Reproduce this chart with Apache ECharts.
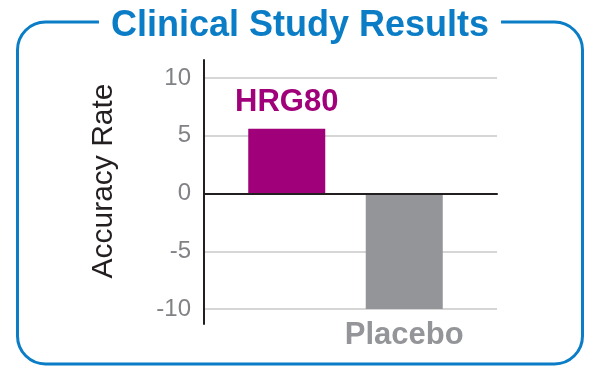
<!DOCTYPE html>
<html>
<head>
<meta charset="utf-8">
<script src="https://cdn.jsdelivr.net/npm/echarts@6/dist/echarts.min.js"></script>
<style>
  html, body { margin: 0; padding: 0; background: #fff; }
  #chart { width: 600px; height: 375px; }
</style>
</head>
<body>
<div id="chart"></div>
<script>
// chart data
const titleText = 'Clinical Study Results';
const axisName = 'Accuracy Rate';
const categories = ['HRG80', 'Placebo'];
const values = [5.6, -10];
const yMin = -10;
const yMax = 10;
const yStep = 5;

const BLUE = '#0a7dc6';
const FONT = 'Arial, "Liberation Sans", sans-serif';
const barColors = ['#a0007a', '#939598'];

const chart = echarts.init(document.getElementById('chart'));

// plot area (shared by the gridline grid and the bar grid)
const plotTop = 78;
const plotBottom = 66;

chart.setOption({
  animation: false,
  title: {
    text: titleText,
    left: 'center',
    top: 8,
    z: 10,
    backgroundColor: '#fff',
    padding: [0, 12],
    textStyle: {
      fontFamily: FONT,
      fontSize: 36,
      fontWeight: 'bold',
      color: BLUE
    }
  },
  graphic: [
    {
      type: 'rect',
      z: 0,
      shape: { x: 17.5, y: 22, width: 565, height: 342, r: 28 },
      style: { fill: 'none', stroke: BLUE, lineWidth: 3 }
    },
    {
      type: 'text',
      x: 104,
      y: 181,
      rotation: Math.PI / 2,
      style: {
        text: axisName,
        fontFamily: FONT,
        fontSize: 30,
        fill: '#231f20',
        align: 'center',
        verticalAlign: 'middle'
      }
    }
  ],
  grid: [
    { left: 204, top: plotTop, width: 293, bottom: plotBottom },
    { left: 228, top: plotTop, width: 235, bottom: plotBottom },
    { left: 204, top: 60, width: 1, bottom: 51 }
  ],
  xAxis: [
    {
      gridIndex: 0,
      type: 'category',
      data: [''],
      z: 5,
      axisLine: { onZero: true, lineStyle: { color: '#231f20', width: 2 } },
      axisTick: { show: false },
      axisLabel: { show: false }
    },
    { gridIndex: 1, type: 'category', data: categories, show: false },
    { gridIndex: 2, type: 'category', data: [''], show: false }
  ],
  yAxis: [
    {
      gridIndex: 0,
      type: 'value',
      min: yMin,
      max: yMax,
      interval: yStep,
      axisLine: { show: false },
      axisTick: { show: false },
      axisLabel: {
        margin: 13,
        fontFamily: FONT,
        fontSize: 24,
        color: '#808285'
      },
      splitLine: { lineStyle: { color: '#c8c8c8', width: 1.5 } }
    },
    { gridIndex: 1, type: 'value', min: yMin, max: yMax, interval: yStep, show: false },
    {
      gridIndex: 2,
      type: 'value',
      min: -1,
      max: 1,
      axisLine: { show: true, lineStyle: { color: '#231f20', width: 2 } },
      axisTick: { show: false },
      axisLabel: { show: false },
      splitLine: { show: false }
    }
  ],
  series: [
    {
      type: 'bar',
      xAxisIndex: 1,
      yAxisIndex: 1,
      barWidth: 77,
      label: {
        show: true,
        formatter: '{b}',
        distance: 11,
        fontFamily: FONT,
        fontSize: 31,
        fontWeight: 'bold'
      },
      data: values.map((v, i) => ({
        value: v,
        itemStyle: { color: barColors[i] },
        label: { color: barColors[i], position: v < 0 ? 'bottom' : 'top' }
      }))
    }
  ]
});
</script>
</body>
</html>
